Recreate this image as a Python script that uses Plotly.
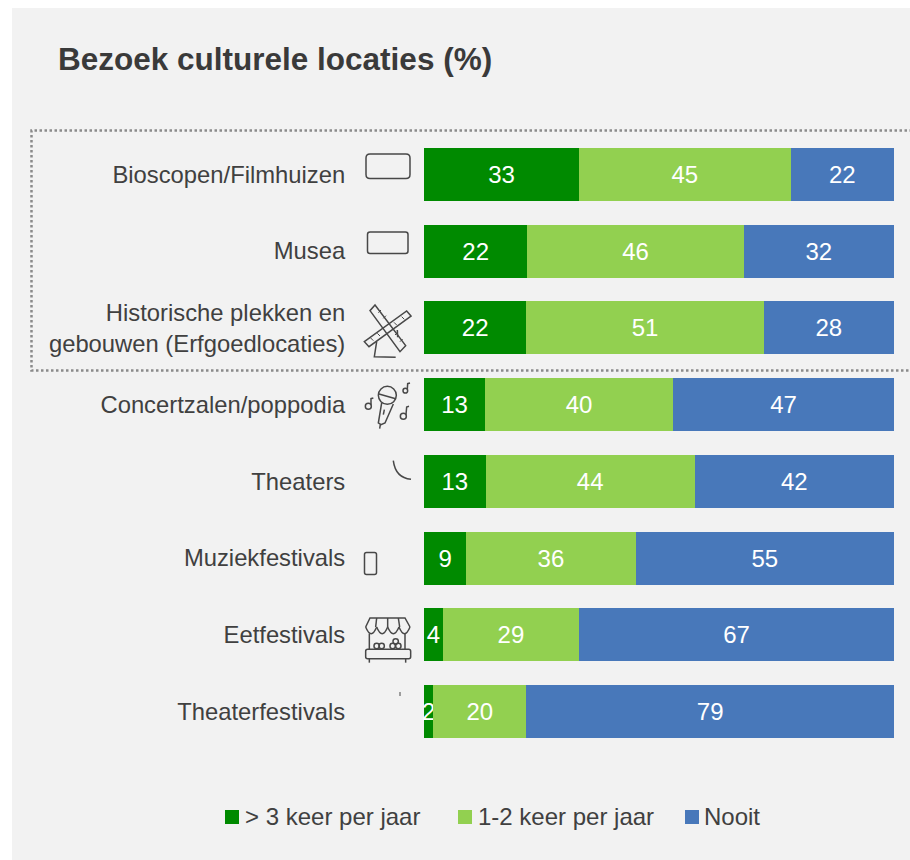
import plotly.graph_objects as go

categories = ["Bioscopen/Filmhuizen", "Musea", "Historische plekken en<br>gebouwen (Erfgoedlocaties)",
              "Concertzalen/poppodia", "Theaters", "Muziekfestivals", "Eetfestivals", "Theaterfestivals"]
often = [33, 22, 22, 13, 13, 9, 4, 2]
sometimes = [45, 46, 51, 40, 44, 36, 29, 20]
never = [22, 32, 28, 47, 42, 55, 67, 79]
series_names = ["> 3 keer per jaar", "1-2 keer per jaar", "Nooit"]
series_colors = ["#008A00", "#92D050", "#4878BA"]
title_text = "Bezoek culturele locaties (%)"

W, H = 910, 860
L, R, T, B = 424, 16, 136, 110
INK = "#404040"
FONT = "Liberation Sans, Arial, sans-serif"
PW, PH = W - L - R, H - T - B

# page pixel -> paper fraction (decoration only)
def fx(x):
    return round((x - L) / PW, 5)
def fy(y):
    return round(1 - (y - T) / PH, 5)
def pt(x, y):
    return f"{fx(x)},{fy(y)}"
def LINE(*points, close=False):
    d = "M" + " L".join(pt(x, y) for x, y in points)
    return d + (" Z" if close else "")
def RR(x0, y0, x1, y1, r):
    return (f"M{pt(x0+r,y0)} L{pt(x1-r,y0)} Q{pt(x1,y0)} {pt(x1,y0+r)} L{pt(x1,y1-r)} Q{pt(x1,y1)} {pt(x1-r,y1)} "
            f"L{pt(x0+r,y1)} Q{pt(x0,y1)} {pt(x0,y1-r)} L{pt(x0,y0+r)} Q{pt(x0,y0)} {pt(x0+r,y0)} Z")
def CIRC(cx, cy, r):
    k = 0.5523 * r
    return (f"M{pt(cx-r,cy)} C{pt(cx-r,cy-k)} {pt(cx-k,cy-r)} {pt(cx,cy-r)} "
            f"C{pt(cx+k,cy-r)} {pt(cx+r,cy-k)} {pt(cx+r,cy)} "
            f"C{pt(cx+r,cy+k)} {pt(cx+k,cy+r)} {pt(cx,cy+r)} "
            f"C{pt(cx-k,cy+r)} {pt(cx-r,cy+k)} {pt(cx-r,cy)} Z")
def Z(ox, oy, *pts):
    return [(ox + a / 3, oy + b / 3) for a, b in pts]

fig = go.Figure()
for name, vals, col in zip(series_names, [often, sometimes, never], series_colors):
    fig.add_trace(go.Bar(
        y=categories, x=vals, name=name, orientation="h", showlegend=False,
        marker=dict(color=col, line=dict(width=0)),
        text=vals, texttemplate="%{text}", textposition="inside", insidetextanchor="middle",
        constraintext="none", cliponaxis=False, textangle=0,
        textfont=dict(color="white", size=24, family=FONT),
    ))

def add_path(path, width=1.5, color="#484848"):
    fig.add_shape(type="path", path=path, xref="paper", yref="paper", layer="above",
                  line=dict(color=color, width=width), fillcolor="rgba(0,0,0,0)")

# panel
fig.add_shape(type="rect", xref="paper", yref="paper", layer="below",
              x0=fx(12), x1=fx(912), y0=fy(8), y1=fy(862),
              fillcolor="#F2F2F2", line=dict(width=0))
# dotted highlight box (open on the right)
fig.add_shape(type="path", xref="paper", yref="paper", layer="below",
              path=LINE((912, 130.5), (31.5, 130.5), (31.5, 370.5), (912, 370.5)),
              line=dict(color="#8A8A8A", width=2.5, dash="2.5px,2.5px"), fillcolor="rgba(0,0,0,0)")

# icons
add_path(RR(366, 154, 410, 178.5, 4))
add_path(RR(367.5, 232, 408, 253.5, 2.5))
# windmill
a = 355; b = 300
add_path(LINE(*Z(a, b, (60, 15), (45, 32), (135, 155), (152, 137)), close=True))
add_path(LINE(*Z(a, b, (168, 48), (155, 33), (28, 125), (42, 140)), close=True))
add_path(LINE(*Z(a, b, (65, 125), (58, 170), (122, 172))))
add_path(LINE(*Z(a, b, (127, 90), (128, 112))))
for p, q in [((70, 38), (78, 30)), ((85, 55), (93, 47)), ((120, 105), (128, 97)), ((135, 125), (143, 117)),
             ((148, 58), (140, 50)), ((125, 75), (117, 67)), ((75, 108), (67, 100)), ((55, 122), (47, 114))]:
    add_path(LINE(*Z(a, b, p, q)), width=1)
# microphone
a = 355; b = 378
add_path(CIRC(a + 97 / 3, b + 52 / 3, 9))
add_path(LINE(*Z(a, b, (72, 48), (122, 62))))
add_path(LINE(*Z(a, b, (80, 75), (70, 135), (78, 140), (90, 135), (115, 78))))
add_path(LINE(*Z(a, b, (76, 140), (74, 152))))
add_path(LINE(*Z(a, b, (88, 95), (85, 110))))
for cx, cy, r, stem in [(40, 85, 9, [(48, 80), (48, 62), (55, 60)]),
                        (145, 115, 9, [(153, 110), (155, 87), (162, 85)]),
                        (151, 38, 7, [(157, 33), (158, 17), (165, 15)])]:
    add_path(CIRC(a + cx / 3, b + cy / 3, r / 3))
    add_path(LINE(*Z(a, b, *stem)))
# theatre arc
add_path(f"M{pt(393.3, 460.7)} Q{pt(395.5, 478)} {pt(411, 479.3)}")
# phone-like outline
add_path(RR(364.5, 552.5, 376.5, 574.5, 2))
# market stall
a = 355; b = 612
add_path(LINE(*Z(a, b, (32, 45), (45, 18), (150, 18), (165, 45))))
xs = [32, 65, 98, 132, 165]
for x0, x1 in zip(xs, xs[1:]):
    add_path(f"M{pt(a + x0/3, b + 45/3)} Q{pt(a + (x0+x1)/6, b + 85/3)} {pt(a + x1/3, b + 45/3)}")
for t, u in [(65, 62), (98, 98), (130, 134)]:
    add_path(LINE(*Z(a, b, (t, 18), (u, 45))))
add_path(LINE(*Z(a, b, (43, 65), (43, 112))))
add_path(LINE(*Z(a, b, (150, 65), (150, 112))))
add_path(RR(a + 32 / 3, b + 112 / 3, a + 167 / 3, b + 140 / 3, 2))
add_path(LINE(*Z(a, b, (43, 140), (43, 152))))
add_path(LINE(*Z(a, b, (152, 140), (152, 152))))
for cx, cy in [(65, 102), (80, 102), (113, 102), (130, 102), (122, 88)]:
    add_path(CIRC(a + cx / 3, b + cy / 3, 2.7))
# stray tick
add_path(LINE((400, 692), (400, 696)), width=1)

# legend row
legend_swatch_x = [225, 458, 685]
legend_text_x = [245, 478, 704]
for name, col, sx, tx in zip(series_names, series_colors, legend_swatch_x, legend_text_x):
    fig.add_shape(type="rect", xref="paper", yref="paper", x0=fx(sx), x1=fx(sx + 14),
                  y0=fy(810), y1=fy(824), fillcolor=col, line=dict(width=0))
    fig.add_annotation(text=name, xref="paper", yref="paper", x=fx(tx), y=fy(817), xanchor="left",
                       yanchor="middle", showarrow=False, borderpad=0, borderwidth=0,
                       font=dict(size=24, color=INK, family=FONT))

fig.update_layout(
    width=W, height=H, margin=dict(l=L, r=R, t=T, b=B, pad=0),
    paper_bgcolor="white", plot_bgcolor="rgba(0,0,0,0)",
    barmode="stack", barnorm="percent", bargap=0.31,
    font=dict(family=FONT, color=INK, size=24),
    title=dict(text=title_text, x=58 / W, xanchor="left", y=1 - 59 / H, yanchor="middle",
               font=dict(size=31.5, color="#3A3A3A", family=FONT, weight="bold")),
    xaxis=dict(visible=False, range=[0, 100], fixedrange=True),
    yaxis=dict(autorange="reversed", showgrid=False, zeroline=False, showline=False,
               ticks="outside", ticklen=73, tickwidth=0, tickcolor="rgba(0,0,0,0)",
               tickfont=dict(size=23.8, color=INK)),
    showlegend=False,
)
fig.write_html("out.html", config={"displayModeBar": False}, default_width="910px", default_height="860px",
               post_script="document.body.style.margin='0';")
